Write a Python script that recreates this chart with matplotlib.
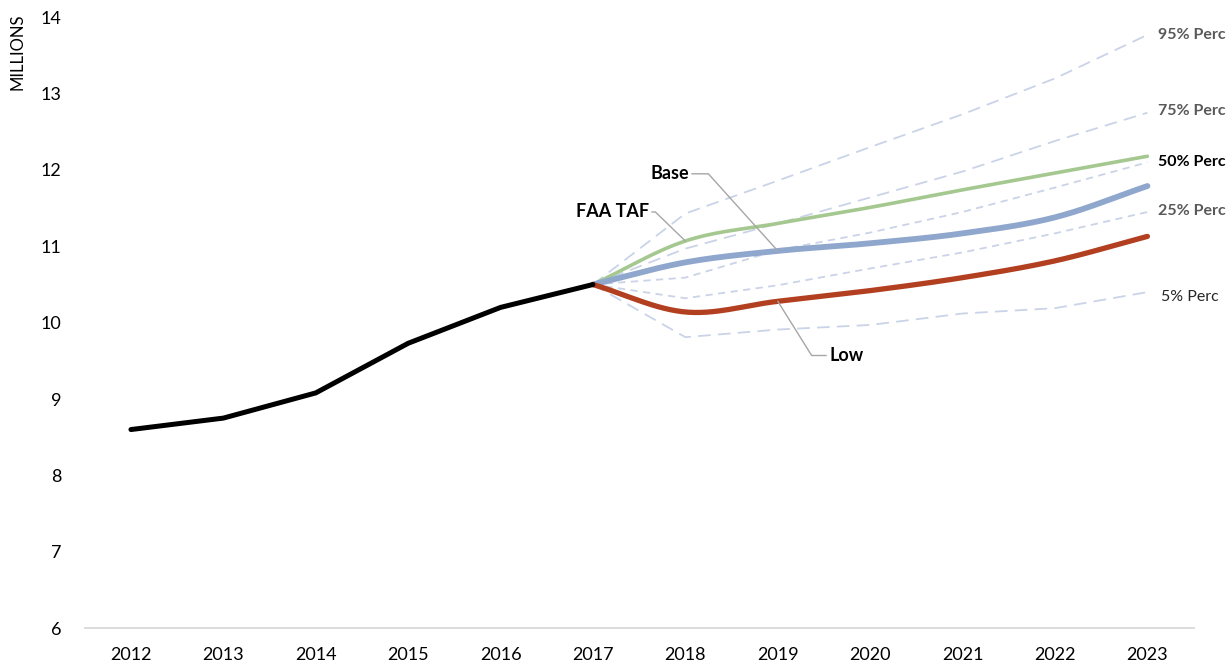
import numpy as np
import matplotlib
matplotlib.use("Agg")
import matplotlib.pyplot as plt

OUT = "out.png"

# historical series
hist_years = [2012, 2013, 2014, 2015, 2016, 2017]
hist_vals = [8.60, 8.75, 9.08, 9.73, 10.20, 10.50]

# forecasts (start from 2017 actual)
fc_years = [2017, 2018, 2019, 2020, 2021, 2022, 2023]
faa_taf = [10.50, 11.07, 11.30, 11.51, 11.74, 11.96, 12.18]
base = [10.50, 10.79, 10.94, 11.04, 11.17, 11.38, 11.79]
low = [10.50, 10.14, 10.28, 10.42, 10.59, 10.81, 11.13]

# percentile bands
p95 = [10.50, 11.43, 11.86, 12.30, 12.73, 13.20, 13.77]
p75 = [10.50, 10.97, 11.30, 11.64, 11.98, 12.38, 12.75]
p50 = [10.50, 10.59, 10.95, 11.18, 11.45, 11.77, 12.10]
p25 = [10.50, 10.32, 10.49, 10.71, 10.92, 11.17, 11.45]
p5 = [10.50, 9.81, 9.91, 9.97, 10.12, 10.19, 10.40]
perc_labels = ["95% Perc", "75% Perc", "50% Perc", "25% Perc", "5% Perc"]


def smooth(xs, ys, n=30):
    """Catmull-Rom through the points, like Excel's 'smoothed line'."""
    x = np.asarray(xs, float)
    y = np.asarray(ys, float)
    px = np.concatenate([[2 * x[0] - x[1]], x, [2 * x[-1] - x[-2]]])
    py = np.concatenate([[2 * y[0] - y[1]], y, [2 * y[-1] - y[-2]]])
    ox, oy = [], []
    t = np.linspace(0, 1, n, endpoint=False)
    for i in range(1, len(px) - 2):
        for arr, out in ((px, ox), (py, oy)):
            p0, p1, p2, p3 = arr[i - 1], arr[i], arr[i + 1], arr[i + 2]
            out.extend(0.5 * ((2 * p1) + (-p0 + p2) * t
                              + (2 * p0 - 5 * p1 + 4 * p2 - p3) * t ** 2
                              + (-p0 + 3 * p1 - 3 * p2 + p3) * t ** 3))
    ox.append(x[-1])
    oy.append(y[-1])
    return ox, oy


plt.rcParams.update({"font.family": ["Lato", "DejaVu Sans"], "font.size": 13})
fig = plt.figure(figsize=(12.28, 6.66), dpi=100)
ax = fig.add_axes([0.069, 0.057, 0.903, 0.917])

dash_c = "#cad3e7"
for vals, ls in ((p95, (0, (7, 4))), (p75, (0, (7, 4))), (p50, (0, (4, 3))),
                 (p25, (0, (4, 3))), (p5, (0, (7, 4)))):
    ax.plot(fc_years, vals, color=dash_c, lw=1.3, ls=ls, zorder=1)

ax.plot(*smooth(fc_years, faa_taf), color="#a5c890", lw=2.6, zorder=3,
        solid_capstyle="round")
ax.plot(*smooth(fc_years, base), color="#8fa7cd", lw=4.2, zorder=3,
        solid_capstyle="round")
ax.plot(*smooth(fc_years, low), color="#b23f1f", lw=3.8, zorder=3,
        solid_capstyle="round")
ax.plot(hist_years, hist_vals, color="black", lw=3.6, zorder=4,
        solid_capstyle="round")

# percentile labels at the right end
lab_style = [("#595959", "bold", 0.0), ("#595959", "bold", 0.02),
             ("black", "bold", 0.0), ("#595959", "bold", 0.01),
             ("#262626", "normal", -0.07)]
for vals, lab, (c, w, dy) in zip((p95, p75, p50, p25, p5), perc_labels, lab_style):
    x0 = 2023.11 if w == "bold" else 2023.15
    ax.text(x0, vals[-1] + dy, lab, color=c, fontweight=w, fontsize=11.5,
            va="center", ha="left", clip_on=False)

# series callouts with elbow leader lines
lead = dict(arrowstyle="-", color="#a6a6a6", lw=1.0, shrinkA=0, shrinkB=0)
ax.annotate("Base", xy=(2019.0, base[2]), xytext=(2017.83, 11.95),
            fontweight="bold", fontsize=13, ha="center", va="center",
            arrowprops=dict(lead, connectionstyle="angle,angleA=0,angleB=-48,rad=0",
                            relpos=(1.0, 0.5)))
ax.annotate("FAA TAF", xy=(2018.0, faa_taf[1]), xytext=(2017.21, 11.45),
            fontweight="bold", fontsize=13, ha="center", va="center",
            arrowprops=dict(lead, connectionstyle="angle,angleA=0,angleB=-44,rad=0",
                            relpos=(1.0, 0.5)))
ax.annotate("Low", xy=(2019.0, low[2]), xytext=(2019.74, 9.57),
            fontweight="bold", fontsize=13, ha="center", va="center",
            arrowprops=dict(lead, connectionstyle="angle,angleA=180,angleB=-58,rad=0",
                            relpos=(0.0, 0.5)))

ax.set_xlim(2011.5, 2023.5)
ax.set_ylim(6, 14)
ax.set_xticks(range(2012, 2024))
ax.set_yticks(range(6, 15))
ax.tick_params(length=0, labelsize=13)
ax.tick_params(axis="y", pad=17)
ax.tick_params(axis="x", pad=14)
for s in ("top", "right", "left"):
    ax.spines[s].set_visible(False)
ax.spines["bottom"].set_color("#d9d9d9")
ax.spines["bottom"].set_linewidth(1.3)

fig.text(0.014, 0.922, "MILLIONS", rotation=90, fontsize=12, ha="center", va="center")

fig.savefig(OUT, dpi=100)
